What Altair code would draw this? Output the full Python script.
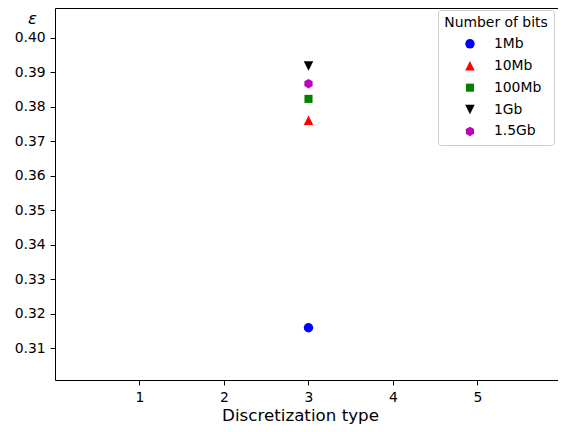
import altair as alt
import pandas as pd

bits = ["1Mb", "10Mb", "100Mb", "1Gb", "1.5Gb"]
disc_type = [3, 3, 3, 3, 3]
eps = [0.316, 0.3761, 0.3823, 0.3918, 0.3867]
colors = ["#0000ff", "#ff0000", "#008000", "#000000", "#bf00bf"]
shapes = [
    "circle",
    "M0,-1L1,1L-1,1Z",
    "M-0.85,-0.85H0.85V0.85H-0.85Z",
    "M0,1L1,-1L-1,-1Z",
    "M0,-1L0.866,-0.5L0.866,0.5L0,1L-0.866,0.5L-0.866,-0.5Z",
]
x_ticks = [1, 2, 3, 4, 5]
y_ticks = [0.31, 0.32, 0.33, 0.34, 0.35, 0.36, 0.37, 0.38, 0.39, 0.40]

df = pd.DataFrame({"bits": bits, "x": disc_type, "eps": eps})

FONT = "DejaVu Sans"
FS = 13.9

legend = alt.Legend(
    title="Number of bits",
    orient="none",
    legendX=383,
    legendY=2,
    titleFont=FONT,
    titleFontSize=FS,
    titleFontWeight="normal",
    titleColor="black",
    titleAnchor="middle",
    titlePadding=7,
    labelFont=FONT,
    labelFontSize=FS,
    labelColor="black",
    labelOffset=17,
    symbolOffset=12,
    symbolSize=90,
    symbolStrokeWidth=0,
    rowPadding=6.9,
    padding=6,
    strokeColor="#cccccc",
    fillColor="white",
    cornerRadius=3,
)

chart = (
    alt.Chart(df)
    .mark_point(filled=True, size=90, opacity=1)
    .encode(
        x=alt.X(
            "x:Q",
            scale=alt.Scale(domain=[0, 5.953], nice=False, zero=False),
            axis=alt.Axis(
                values=x_ticks,
                title="Discretization type",
                titleX=245,
                titleY=40,
                titleBaseline="alphabetic",
                titleFontSize=16.7,
                labelBaseline="alphabetic",
                labelPadding=17,
            ),
        ),
        y=alt.Y(
            "eps:Q",
            scale=alt.Scale(domain=[0.30087, 0.40863], nice=False, zero=False),
            axis=alt.Axis(
                values=y_ticks,
                format=".2f",
                title="ε",
                titleAngle=0,
                titleX=-23,
                titleY=10,
                titleAlign="center",
                titleBaseline="middle",
                titleFontSize=16.7,
                titleFontStyle="italic",
                labelPadding=5,
            ),
        ),
        color=alt.Color("bits:N", scale=alt.Scale(domain=bits, range=colors), legend=legend),
        shape=alt.Shape("bits:N", scale=alt.Scale(domain=bits, range=shapes), legend=legend),
    )
    .properties(
        width=503,
        height=372,
        autosize=alt.AutoSizeParams(type="none"),
        padding={"left": 47, "top": 0, "right": 0, "bottom": 44},
    )
    .configure_view(stroke="black", strokeWidth=1)
    .configure_axis(
        grid=False,
        domain=False,
        tickColor="black",
        tickSize=4.9,
        tickWidth=1,
        labelFont=FONT,
        labelFontSize=FS,
        labelColor="black",
        titleFont=FONT,
        titleColor="black",
        titleFontWeight="normal",
    )
)

chart.save("out.html", embed_options={"renderer": "svg", "actions": False})
